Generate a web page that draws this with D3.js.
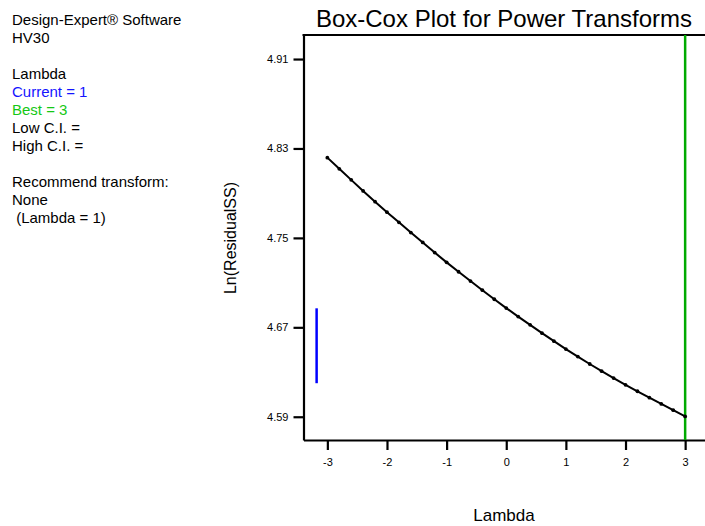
<!DOCTYPE html>
<html>
<head>
<meta charset="utf-8">
<script src="https://cdn.jsdelivr.net/npm/d3@7"></script>
<style>
  html, body { margin: 0; padding: 0; background: #fff; }
  svg { display: block; font-family: Arial, "Liberation Sans", sans-serif; }
</style>
</head>
<body>
<svg id="chart" width="705" height="526"></svg>
<script>
// ---- data ----
const lambdas = [-3.0, -2.8, -2.6, -2.4, -2.2, -2.0, -1.8, -1.6, -1.4, -1.2, -1.0,
                 -0.8, -0.6, -0.4, -0.2, 0.0, 0.2, 0.4, 0.6, 0.8, 1.0,
                 1.2, 1.4, 1.6, 1.8, 2.0, 2.2, 2.4, 2.6, 2.8, 3.0];
const lnResidualSS = [4.8218, 4.8118, 4.8019, 4.7920, 4.7824, 4.7730, 4.7639, 4.7548, 4.7459, 4.7369, 4.7281,
                      4.7197, 4.7114, 4.7032, 4.6951, 4.6872, 4.6796, 4.6722, 4.6648, 4.6576, 4.6505,
                      4.6438, 4.6372, 4.6308, 4.6246, 4.6186, 4.6128, 4.6071, 4.6015, 4.5959, 4.5903];
const xTicks = [-3, -2, -1, 0, 1, 2, 3];
const yTicks = [4.59, 4.67, 4.75, 4.83, 4.91];
const currentMarker = { lambda: -3.18, low: 4.620, high: 4.687 };
const bestLambda = 3;
const infoLines = [
  { text: "Design-Expert\u00AE Software", color: "#000" },
  { text: "HV30", color: "#000" },
  { text: "", color: "#000" },
  { text: "Lambda", color: "#000" },
  { text: "Current = 1", color: "#1414ff" },
  { text: "Best = 3", color: "#14c814" },
  { text: "Low C.I. =", color: "#000" },
  { text: "High C.I. =", color: "#000" },
  { text: "", color: "#000" },
  { text: "Recommend transform:", color: "#000" },
  { text: "None", color: "#000" },
  { text: " (Lambda = 1)", color: "#000" }
];

// ---- layout ----
const svg = d3.select("#chart");
const pLeft = 303.5, pRight = 709, pTop = 35, pBottom = 440;

const x = d3.scaleLinear().domain([-3.4, 3.4]).range([pLeft, pRight]);
const y = d3.scaleLinear().domain([4.5692, 4.9315]).range([pBottom, pTop]);

// info text
svg.append("g").selectAll("text").data(infoLines).join("text")
  .attr("x", 12)
  .attr("y", (d, i) => 25 + 18 * i)
  .attr("font-size", 15)
  .attr("fill", d => d.color)
  .style("white-space", "pre")
  .attr("xml:space", "preserve")
  .text(d => d.text);

// title
svg.append("text")
  .attr("x", 504).attr("y", 27)
  .attr("text-anchor", "middle")
  .attr("font-size", 24)
  .attr("fill", "#000")
  .text("Box-Cox Plot for Power Transforms");

// axes
const yAxis = d3.axisLeft(y).tickValues(yTicks).tickFormat(d3.format(".2f"))
  .tickSize(10).tickSizeOuter(0).tickPadding(5);
const gy = svg.append("g").attr("transform", `translate(${pLeft},0)`).call(yAxis);
gy.selectAll("text").attr("font-size", 11).attr("font-family", "Arial, 'Liberation Sans', sans-serif").attr("fill", "#000");

const xAxis = d3.axisBottom(x).tickValues(xTicks).tickFormat(d3.format("d"))
  .tickSize(10).tickSizeOuter(0).tickPadding(8);
const gx = svg.append("g").attr("transform", `translate(0,${pBottom})`).call(xAxis);
gx.selectAll("text").attr("font-size", 11).attr("font-family", "Arial, 'Liberation Sans', sans-serif").attr("fill", "#000")
  .text(d => d < 0 ? "-" + Math.abs(d) : d);

svg.selectAll(".domain, .tick line").attr("stroke", "#000").attr("stroke-width", 2.2);

// top frame line
svg.append("line")
  .attr("x1", pLeft - 1).attr("x2", 705)
  .attr("y1", pTop).attr("y2", pTop)
  .attr("stroke", "#000").attr("stroke-width", 2.2);

// axis labels
svg.append("text")
  .attr("transform", `translate(236,238) rotate(-90)`)
  .attr("text-anchor", "middle")
  .attr("font-size", 16)
  .attr("fill", "#000")
  .text("Ln(ResidualSS)");

svg.append("text")
  .attr("x", 504).attr("y", 521)
  .attr("text-anchor", "middle")
  .attr("font-size", 17)
  .attr("fill", "#000")
  .text("Lambda");

// best lambda line
svg.append("line")
  .attr("x1", x(bestLambda)).attr("x2", x(bestLambda))
  .attr("y1", pTop).attr("y2", pBottom)
  .attr("stroke", "#00aa00").attr("stroke-width", 2.5);

// current marker
svg.append("line")
  .attr("x1", x(currentMarker.lambda)).attr("x2", x(currentMarker.lambda))
  .attr("y1", y(currentMarker.low)).attr("y2", y(currentMarker.high))
  .attr("stroke", "#0000ff").attr("stroke-width", 2.5);

// curve
const pts = lambdas.map((l, i) => [l, lnResidualSS[i]]);
svg.append("path")
  .datum(pts)
  .attr("fill", "none")
  .attr("stroke", "#000")
  .attr("stroke-width", 2)
  .attr("d", d3.line().x(d => x(d[0])).y(d => y(d[1])));

svg.append("g").selectAll("circle").data(pts).join("circle")
  .attr("cx", d => x(d[0])).attr("cy", d => y(d[1]))
  .attr("r", 1.9).attr("fill", "#000");
</script>
</body>
</html>
